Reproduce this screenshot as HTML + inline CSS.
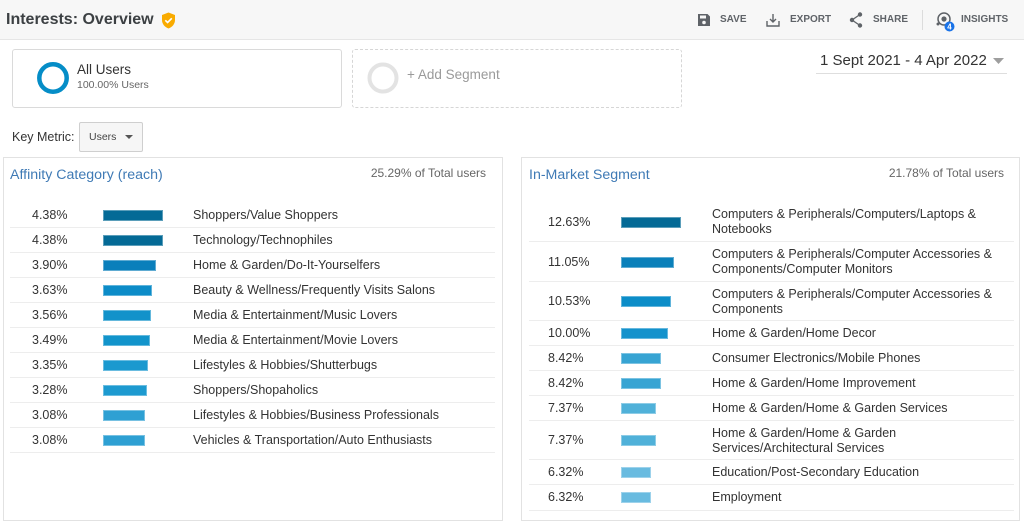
<!DOCTYPE html>
<html><head><meta charset="utf-8">
<style>
*{box-sizing:border-box;margin:0;padding:0}
body{width:1024px;height:527px;overflow:hidden;background:#fff;font-family:"Liberation Sans",Arial,sans-serif;color:#333;position:relative}
.a{position:absolute;white-space:nowrap}
.hdr{position:absolute;left:0;top:0;width:1024px;height:40px;background:#f7f7f7;border-bottom:1px solid #e6e6e6}
.btn{position:absolute;top:14px;font-size:10px;font-weight:bold;color:#5f6368;line-height:12px}
.panel{position:absolute;top:157px;height:364px;border:1px solid #e2e2e2;background:#fff}
.row{position:absolute;border-bottom:1px solid #ededed}
.pct{position:absolute;font-size:12.5px;color:#333;line-height:14px}
.bar{position:absolute;height:11px;border:1px solid rgba(255,255,255,0.35)}
.lbl{position:absolute;font-size:12.5px;color:#333;line-height:14.5px;white-space:nowrap}
.ptitle{position:absolute;font-size:14.2px;color:#3f7ab5;line-height:18px}
.ptot{position:absolute;font-size:12px;color:#666;line-height:14px;text-align:right}
</style></head><body>
<div class="hdr"></div>
<div class="a" style="left:6px;top:10px;font-size:16px;font-weight:bold;color:#3c4043;line-height:20px">Interests: Overview</div>
<svg class="a" style="left:161px;top:12px" width="15" height="17" viewBox="0 0 15 17"><path d="M7.5 0.5 L14 3 V8 C14 12 11.3 15 7.5 16.5 C3.7 15 1 12 1 8 V3 Z" fill="#f9ab00"/><path d="M4.3 8.3 L6.6 10.5 L10.8 6.3" stroke="#fff" stroke-width="1.6" fill="none"/></svg>

<svg class="a" style="left:697px;top:13px" width="14" height="14" viewBox="0 0 14 14"><path d="M1 1 H10.5 L13 3.5 V13 H1 Z" fill="#5f6368"/><rect x="3" y="2.5" width="6" height="3" fill="#f7f7f7"/><circle cx="7" cy="9.5" r="1.8" fill="#f7f7f7"/></svg>
<div class="btn" style="left:720px">SAVE</div>
<svg class="a" style="left:766px;top:13px" width="14" height="14" viewBox="0 0 14 14" fill="none" stroke="#5f6368" stroke-width="1.4"><path d="M7 1 V9 M4 6 L7 9 L10 6"/><path d="M1 8 V13 H13 V8"/></svg>
<div class="btn" style="left:790px">EXPORT</div>
<svg class="a" style="left:849px;top:12px" width="14" height="16" viewBox="0 0 14 16"><path d="M11 2.5 L3 8 L11 13.5" stroke="#5f6368" stroke-width="1.3" fill="none"/><circle cx="11" cy="2.5" r="2.2" fill="#5f6368"/><circle cx="3" cy="8" r="2.2" fill="#5f6368"/><circle cx="11" cy="13.5" r="2.2" fill="#5f6368"/></svg>
<div class="btn" style="left:873px">SHARE</div>
<div class="a" style="left:922px;top:10px;width:1px;height:20px;background:#dcdcdc"></div>
<svg class="a" style="left:935px;top:11px" width="22" height="22" viewBox="0 0 22 22"><circle cx="9" cy="8" r="6" stroke="#5f6368" stroke-width="1.5" fill="none"/><circle cx="9" cy="8" r="2.6" fill="#5f6368"/><circle cx="3" cy="13" r="1.5" fill="#5f6368"/><circle cx="14.5" cy="15.5" r="5" fill="#1a73e8"/><text x="14.5" y="18.6" font-size="8" font-weight="bold" fill="#fff" text-anchor="middle" font-family="Liberation Sans,sans-serif">4</text></svg>
<div class="btn" style="left:961px">INSIGHTS</div>

<div class="a" style="left:12px;top:49px;width:330px;height:59px;border:1px solid #dadada;border-radius:3px"></div>
<svg class="a" style="left:35px;top:60px" width="36" height="36"><circle cx="18" cy="18" r="13.7" stroke="#058dc7" stroke-width="4.5" fill="none"/></svg>
<div class="a" style="left:77px;top:62px;font-size:13.5px;line-height:16px;color:#333">All Users</div>
<div class="a" style="left:77px;top:79px;font-size:10.5px;line-height:12px;color:#666">100.00% Users</div>

<div class="a" style="left:352px;top:49px;width:330px;height:59px;border:1px dashed #d6d6d6;border-radius:3px"></div>
<svg class="a" style="left:365px;top:60px" width="36" height="36"><circle cx="18" cy="18" r="13.5" stroke="#e3e3e3" stroke-width="4" fill="none"/></svg>
<div class="a" style="left:407px;top:67px;font-size:13.5px;line-height:16px;color:#9a9a9a">+ Add Segment</div>

<div class="a" style="left:820px;top:52px;font-size:15px;line-height:18px;color:#333">1 Sept 2021 - 4 Apr 2022</div>
<svg class="a" style="left:993px;top:58px" width="11" height="6"><path d="M0 0 H11 L5.5 6 Z" fill="#9e9e9e"/></svg>
<div class="a" style="left:816px;top:73px;width:191px;height:1px;background:#dedede"></div>

<div class="a" style="left:12px;top:130px;font-size:12.5px;line-height:15px;color:#333">Key Metric:</div>
<div class="a" style="left:79px;top:122px;width:64px;height:30px;border:1px solid #cfcfcf;border-radius:2px;background:#f6f6f6"></div>
<div class="a" style="left:89px;top:131px;font-size:10.5px;line-height:12px;color:#444">Users</div>
<svg class="a" style="left:125px;top:135px" width="8" height="4"><path d="M0 0 H8 L4 4 Z" fill="#555"/></svg>

<!-- Left panel -->
<div class="panel" style="left:3px;width:500px"></div>
<div class="ptitle" style="left:10px;top:166px">Affinity Category (reach)</div>
<div class="ptot" style="left:300px;width:186px;top:166px">25.29% of Total users</div>

<div class="row" style="left:10px;width:485px;top:203px;height:25px"><div class="pct" style="left:22px;top:5px">4.38%</div><div class="bar" style="left:93px;top:7px;width:60px;background:#046a96"></div><div class="lbl" style="left:183px;top:5px">Shoppers/Value Shoppers</div></div>
<div class="row" style="left:10px;width:485px;top:228px;height:25px"><div class="pct" style="left:22px;top:5px">4.38%</div><div class="bar" style="left:93px;top:7px;width:60px;background:#046a96"></div><div class="lbl" style="left:183px;top:5px">Technology/Technophiles</div></div>
<div class="row" style="left:10px;width:485px;top:253px;height:25px"><div class="pct" style="left:22px;top:5px">3.90%</div><div class="bar" style="left:93px;top:7px;width:53px;background:#0a7fbb"></div><div class="lbl" style="left:183px;top:5px">Home &amp; Garden/Do-It-Yourselfers</div></div>
<div class="row" style="left:10px;width:485px;top:278px;height:25px"><div class="pct" style="left:22px;top:5px">3.63%</div><div class="bar" style="left:93px;top:7px;width:49px;background:#0c8cc8"></div><div class="lbl" style="left:183px;top:5px">Beauty &amp; Wellness/Frequently Visits Salons</div></div>
<div class="row" style="left:10px;width:485px;top:303px;height:25px"><div class="pct" style="left:22px;top:5px">3.56%</div><div class="bar" style="left:93px;top:7px;width:48px;background:#1292ca"></div><div class="lbl" style="left:183px;top:5px">Media &amp; Entertainment/Music Lovers</div></div>
<div class="row" style="left:10px;width:485px;top:328px;height:25px"><div class="pct" style="left:22px;top:5px">3.49%</div><div class="bar" style="left:93px;top:7px;width:47px;background:#1294cb"></div><div class="lbl" style="left:183px;top:5px">Media &amp; Entertainment/Movie Lovers</div></div>
<div class="row" style="left:10px;width:485px;top:353px;height:25px"><div class="pct" style="left:22px;top:5px">3.35%</div><div class="bar" style="left:93px;top:7px;width:45px;background:#1b99cf"></div><div class="lbl" style="left:183px;top:5px">Lifestyles &amp; Hobbies/Shutterbugs</div></div>
<div class="row" style="left:10px;width:485px;top:378px;height:25px"><div class="pct" style="left:22px;top:5px">3.28%</div><div class="bar" style="left:93px;top:7px;width:44px;background:#1d9ad0"></div><div class="lbl" style="left:183px;top:5px">Shoppers/Shopaholics</div></div>
<div class="row" style="left:10px;width:485px;top:403px;height:25px"><div class="pct" style="left:22px;top:5px">3.08%</div><div class="bar" style="left:93px;top:7px;width:42px;background:#2ea0d3"></div><div class="lbl" style="left:183px;top:5px">Lifestyles &amp; Hobbies/Business Professionals</div></div>
<div class="row" style="left:10px;width:485px;top:428px;height:25px"><div class="pct" style="left:22px;top:5px">3.08%</div><div class="bar" style="left:93px;top:7px;width:42px;background:#2ea0d3"></div><div class="lbl" style="left:183px;top:5px">Vehicles &amp; Transportation/Auto Enthusiasts</div></div>

<!-- Right panel -->
<div class="panel" style="left:521px;width:499px"></div>
<div class="ptitle" style="left:529px;top:166px">In-Market Segment</div>
<div class="ptot" style="left:800px;width:204px;top:166px">21.78% of Total users</div>

<div class="row" style="left:529px;width:485px;top:202px;height:40px"><div class="pct" style="left:19px;top:13px">12.63%</div><div class="bar" style="left:92px;top:15px;width:60px;background:#046a96"></div><div class="lbl" style="left:183px;top:5px">Computers &amp; Peripherals/Computers/Laptops &amp;<br>Notebooks</div></div>
<div class="row" style="left:529px;width:485px;top:242px;height:40px"><div class="pct" style="left:19px;top:13px">11.05%</div><div class="bar" style="left:92px;top:15px;width:53px;background:#0a80ba"></div><div class="lbl" style="left:183px;top:5px">Computers &amp; Peripherals/Computer Accessories &amp;<br>Components/Computer Monitors</div></div>
<div class="row" style="left:529px;width:485px;top:282px;height:39px"><div class="pct" style="left:19px;top:12px">10.53%</div><div class="bar" style="left:92px;top:14px;width:50px;background:#0c8dc8"></div><div class="lbl" style="left:183px;top:5px">Computers &amp; Peripherals/Computer Accessories &amp;<br>Components</div></div>
<div class="row" style="left:529px;width:485px;top:321px;height:25px"><div class="pct" style="left:19px;top:5px">10.00%</div><div class="bar" style="left:92px;top:7px;width:47px;background:#1492cc"></div><div class="lbl" style="left:183px;top:5px">Home &amp; Garden/Home Decor</div></div>
<div class="row" style="left:529px;width:485px;top:346px;height:25px"><div class="pct" style="left:19px;top:5px">8.42%</div><div class="bar" style="left:92px;top:7px;width:40px;background:#37a4d3"></div><div class="lbl" style="left:183px;top:5px">Consumer Electronics/Mobile Phones</div></div>
<div class="row" style="left:529px;width:485px;top:371px;height:25px"><div class="pct" style="left:19px;top:5px">8.42%</div><div class="bar" style="left:92px;top:7px;width:40px;background:#37a4d3"></div><div class="lbl" style="left:183px;top:5px">Home &amp; Garden/Home Improvement</div></div>
<div class="row" style="left:529px;width:485px;top:396px;height:25px"><div class="pct" style="left:19px;top:5px">7.37%</div><div class="bar" style="left:92px;top:7px;width:35px;background:#50b1d9"></div><div class="lbl" style="left:183px;top:5px">Home &amp; Garden/Home &amp; Garden Services</div></div>
<div class="row" style="left:529px;width:485px;top:421px;height:39px"><div class="pct" style="left:19px;top:12px">7.37%</div><div class="bar" style="left:92px;top:14px;width:35px;background:#50b1d9"></div><div class="lbl" style="left:183px;top:5px">Home &amp; Garden/Home &amp; Garden<br>Services/Architectural Services</div></div>
<div class="row" style="left:529px;width:485px;top:460px;height:25px"><div class="pct" style="left:19px;top:5px">6.32%</div><div class="bar" style="left:92px;top:7px;width:30px;background:#69bbe0"></div><div class="lbl" style="left:183px;top:5px">Education/Post-Secondary Education</div></div>
<div class="row" style="left:529px;width:485px;top:485px;height:26px"><div class="pct" style="left:19px;top:5px">6.32%</div><div class="bar" style="left:92px;top:7px;width:30px;background:#69bbe0"></div><div class="lbl" style="left:183px;top:5px">Employment</div></div>
</body></html>
